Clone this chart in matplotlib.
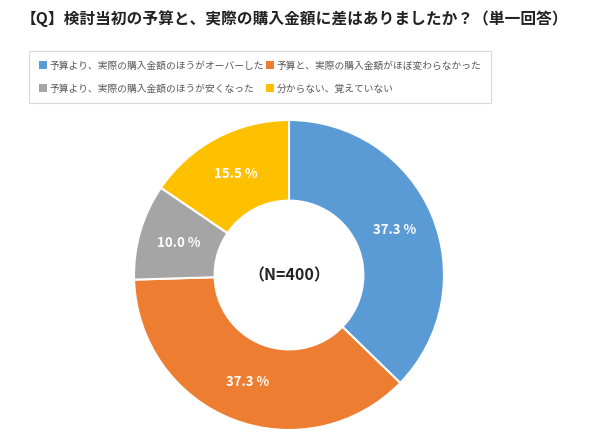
import numpy as np
import matplotlib
matplotlib.use("Agg")
import matplotlib.pyplot as plt
from matplotlib.patches import Patch

plt.rcParams['font.family'] = ['Noto Sans CJK JP', 'DejaVu Sans']

# Data
categories = [
    '予算より、実際の購入金額のほうがオーバーした',
    '予算と、実際の購入金額がほぼ変わらなかった',
    '予算より、実際の購入金額のほうが安くなった',
    '分からない、覚えていない',
]
values = [37.3, 37.3, 10.0, 15.5]
colors = ['#5B9BD5', '#ED7D31', '#A5A5A5', '#FFC000']
title = '【Q】検討当初の予算と、実際の購入金額に差はありましたか？（単一回答）'
center_text = '（N=400）'

W, H = 600, 437
fig = plt.figure(figsize=(W / 100, H / 100), dpi=100)

# Donut axes: centre (289, 275) px from top-left, radius ~155 px
cx, cy, r, half = 289, 275, 155, 165
ax = fig.add_axes([(cx - half) / W, (H - cy - half) / H, 2 * half / W, 2 * half / H])
wedges, _ = ax.pie(values, colors=colors, startangle=90, counterclock=False,
                   radius=1.0, wedgeprops=dict(width=0.52, edgecolor='white', linewidth=1.5))
ax.set_xlim(-half / r, half / r)
ax.set_ylim(-half / r, half / r)
ax.set_aspect('equal')
ax.axis('off')

for w, v in zip(wedges, values):
    ang = np.deg2rad((w.theta1 + w.theta2) / 2)
    ax.text(0.74 * np.cos(ang), 0.74 * np.sin(ang), f'{v:.1f} %',
            ha='center', va='center', color='white', fontsize=9.5, fontweight='bold')

ax.text(0, 0, center_text, ha='center', va='center', fontsize=11.5,
        fontweight='bold', color='#222222')

# Title
fig.text(21 / W, 1 - 19 / H, title, ha='left', va='center', fontsize=11.3,
         fontweight='bold', color='#222222')

# Legend (two columns, row-wise order as in the original)
handles = [Patch(facecolor=c, edgecolor='none') for c in colors]
order = [0, 2, 1, 3]
leg = fig.legend([handles[i] for i in order], [categories[i] for i in order],
                 ncol=2, loc='upper left',
                 bbox_to_anchor=(24 / W, 1 - 46 / H), fontsize=7,
                 frameon=True, fancybox=False, edgecolor='#D0D0D0',
                 handlelength=0.9, handleheight=0.9, handletextpad=0.2,
                 columnspacing=0.2, labelspacing=1.35, borderpad=1.0,
                 labelcolor='#595959')
leg.get_frame().set_linewidth(0.8)

fig.savefig('out.png', dpi=100, facecolor='white')
